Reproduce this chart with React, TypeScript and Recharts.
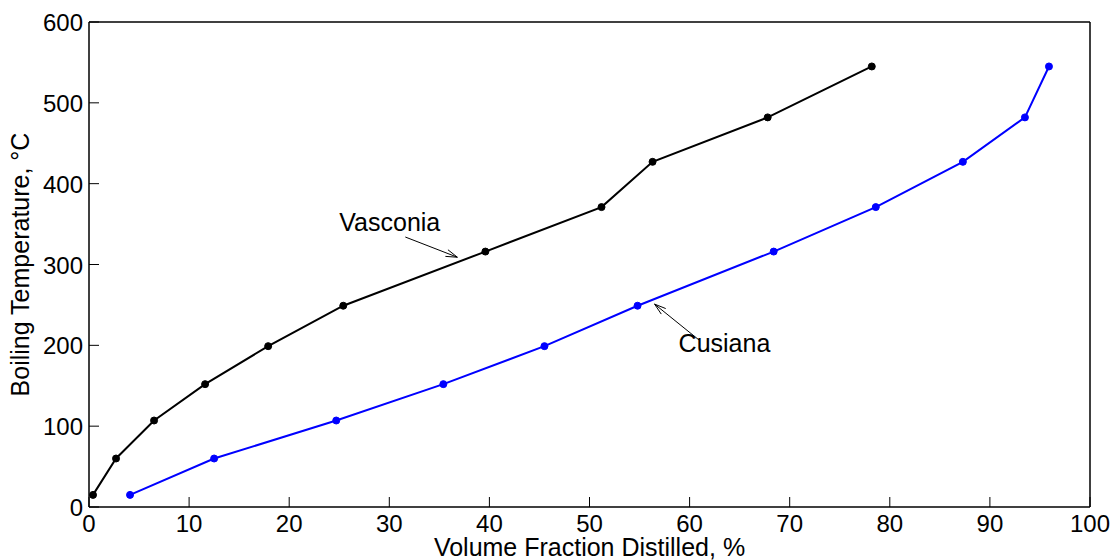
import React from "react";
import {
  LineChart,
  Line,
  XAxis,
  YAxis,
  ReferenceLine,
  ReferenceDot,
} from "recharts";

const temps = [15, 60, 107, 152, 199, 249, 316, 371, 427, 482, 545];
const vasconiaX = [0.4, 2.7, 6.5, 11.6, 17.9, 25.4, 39.6, 51.2, 56.3, 67.8, 78.2];
const cusianaX = [4.1, 12.5, 24.7, 35.4, 45.5, 54.8, 68.4, 78.6, 87.3, 93.5, 95.9];
const xTicks = [0, 10, 20, 30, 40, 50, 60, 70, 80, 90, 100];
const yTicks = [0, 100, 200, 300, 400, 500, 600];

const vasconia = vasconiaX.map((x, i) => ({ x, t: temps[i] }));
const cusiana = cusianaX.map((x, i) => ({ x, t: temps[i] }));

// annotation: text anchor + arrow tail -> head, in data units
const notes = [
  { name: "Vasconia", tx: 25.0, ty: 350, from: [31.6, 334], to: [36.8, 309] },
  { name: "Cusiana", tx: 58.9, ty: 200, from: [61.0, 206], to: [56.5, 251] },
];

const FONT = "'Liberation Sans', Arial, Helvetica, sans-serif";
const TICK = 10;

const BottomTick = ({ x, y, payload }: any) => (
  <g>
    <line x1={x} y1={y} x2={x} y2={y - TICK} stroke="#000" strokeWidth={1} />
    <text x={x} y={y + 25} textAnchor="middle" fontSize={24} fontFamily={FONT} fill="#000">
      {payload.value}
    </text>
  </g>
);

const TopTick = ({ x, y }: any) => (
  <line x1={x} y1={y} x2={x} y2={y + TICK} stroke="#000" strokeWidth={1} />
);

const LeftTick = ({ x, y, payload }: any) => (
  <g>
    <line x1={x} y1={y} x2={x + TICK} y2={y} stroke="#000" strokeWidth={1} />
    <text x={x - 6} y={y + 9} textAnchor="end" fontSize={24} fontFamily={FONT} fill="#000">
      {payload.value}
    </text>
  </g>
);

const RightTick = ({ x, y }: any) => (
  <line x1={x} y1={y} x2={x - TICK} y2={y} stroke="#000" strokeWidth={1} />
);

const Arrow = (p: any) => {
  const { x1, y1, x2, y2 } = p;
  const a = Math.atan2(y2 - y1, x2 - x1);
  const len = 12;
  const sp = 0.3;
  const hx1 = x2 - len * Math.cos(a - sp);
  const hy1 = y2 - len * Math.sin(a - sp);
  const hx2 = x2 - len * Math.cos(a + sp);
  const hy2 = y2 - len * Math.sin(a + sp);
  return (
    <g stroke="#000" strokeWidth={1} fill="none">
      <line x1={x1} y1={y1} x2={x2} y2={y2} />
      <polyline points={`${hx1},${hy1} ${x2},${y2} ${hx2},${hy2}`} />
    </g>
  );
};

export default function App() {
  return (
    <div style={{ position: "absolute", left: 0, top: 0, background: "#fff" }}>
      <LineChart width={1110} height={560} margin={{ top: 0, right: 0, bottom: 0, left: 0 }}>
        <XAxis
          xAxisId="b"
          dataKey="x"
          type="number"
          domain={[0, 100]}
          ticks={xTicks}
          orientation="bottom"
          height={53}
          tickSize={0}
          tickMargin={0}
          tick={<BottomTick />}
          axisLine={{ stroke: "#000", strokeWidth: 1.5 }}
          tickLine={false}
          allowDataOverflow
          label={{
            content: ({ viewBox }: any) => (
              <text
                x={viewBox.x + viewBox.width / 2}
                y={viewBox.y + 49}
                textAnchor="middle"
                fontSize={25}
                fontFamily={FONT}
                fill="#000"
              >
                Volume Fraction Distilled, %
              </text>
            ),
          }}
        />
        <XAxis
          xAxisId="t"
          dataKey="x"
          type="number"
          domain={[0, 100]}
          ticks={xTicks}
          orientation="top"
          height={22}
          tickSize={0}
          tickMargin={0}
          tick={<TopTick />}
          axisLine={{ stroke: "#000", strokeWidth: 1.5 }}
          tickLine={false}
        />
        <YAxis
          yAxisId="l"
          type="number"
          domain={[0, 600]}
          ticks={yTicks}
          orientation="left"
          width={89}
          tickSize={0}
          tickMargin={0}
          tick={<LeftTick />}
          axisLine={{ stroke: "#000", strokeWidth: 1.5 }}
          tickLine={false}
          allowDataOverflow
          label={{
            content: ({ viewBox }: any) => {
              const cx = viewBox.x + 22;
              const cy = viewBox.y + viewBox.height / 2;
              return (
                <text
                  x={cx}
                  y={cy}
                  transform={`rotate(-90 ${cx} ${cy})`}
                  textAnchor="middle"
                  dominantBaseline="middle"
                  fontSize={25}
                  fontFamily={FONT}
                  fill="#000"
                >
                  Boiling Temperature, °C
                </text>
              );
            },
          }}
        />
        <YAxis
          yAxisId="r"
          type="number"
          domain={[0, 600]}
          ticks={yTicks}
          orientation="right"
          width={20}
          tickSize={0}
          tickMargin={0}
          tick={<RightTick />}
          axisLine={{ stroke: "#000", strokeWidth: 1.5 }}
          tickLine={false}
        />
        <Line
          xAxisId="b"
          yAxisId="l"
          data={vasconia}
          dataKey="t"
          type="linear"
          stroke="#000"
          strokeWidth={2}
          dot={{ r: 3.5, fill: "#000", stroke: "#000", strokeWidth: 1 }}
          activeDot={false}
          isAnimationActive={false}
        />
        <Line
          xAxisId="b"
          yAxisId="l"
          data={cusiana}
          dataKey="t"
          type="linear"
          stroke="#0000ff"
          strokeWidth={2}
          dot={{ r: 3.5, fill: "#0000ff", stroke: "#0000ff", strokeWidth: 1 }}
          activeDot={false}
          isAnimationActive={false}
        />
        {notes.map((n) => (
          <ReferenceLine
            key={n.name + "-arrow"}
            xAxisId="b"
            yAxisId="l"
            segment={[
              { x: n.from[0], y: n.from[1] },
              { x: n.to[0], y: n.to[1] },
            ]}
            shape={<Arrow />}
            ifOverflow="visible"
          />
        ))}
        {notes.map((n) => (
          <ReferenceDot
            key={n.name + "-text"}
            xAxisId="b"
            yAxisId="l"
            x={n.tx}
            y={n.ty}
            r={0}
            ifOverflow="visible"
            shape={(p: any) => (
              <text
                x={p.cx}
                y={p.cy}
                dominantBaseline="middle"
                fontSize={25}
                fontFamily={FONT}
                fill="#000"
              >
                {n.name}
              </text>
            )}
          />
        ))}
      </LineChart>
    </div>
  );
}
